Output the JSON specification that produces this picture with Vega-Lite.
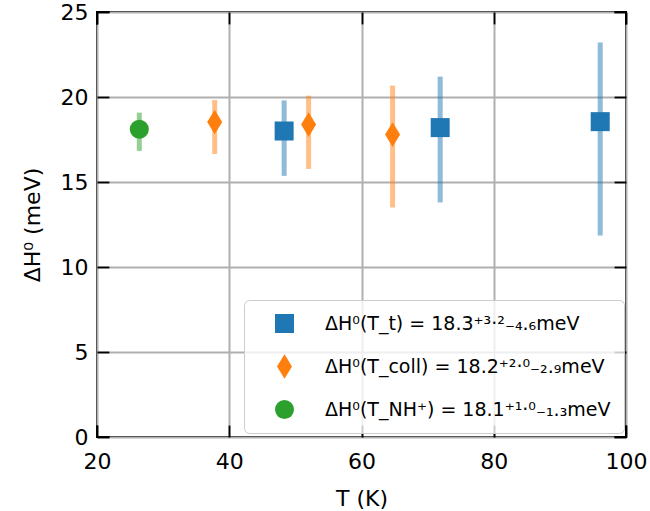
{
  "$schema": "https://vega.github.io/schema/vega-lite/v6.json",
  "width": 529,
  "height": 425,
  "autosize": "none",
  "padding": {"left": 97, "top": 12, "right": 24, "bottom": 74},
  "config": {
    "font": "DejaVu Sans",
    "view": {"stroke": "black", "strokeWidth": 2},
    "axis": {
      "domain": false,
      "tickSize": -12,
      "tickColor": "black",
      "tickWidth": 2,
      "labelFontSize": 22,
      "labelColor": "black",
      "labelFlush": false,
      "labelOverlap": false,
      "titleFontSize": 22,
      "titleFontWeight": "normal",
      "titleColor": "black",
      "gridColor": "#b0b0b0",
      "gridWidth": 2,
      "labelPadding": 21,
      "zindex": 1
    }
  },
  "data": {
    "values": [
      {"series": "ΔH⁰(T_t) = 18.3⁺³·²₋₄.₆meV", "T": 48.3, "dH": 18.0, "lo": 15.36, "hi": 19.8},
      {"series": "ΔH⁰(T_t) = 18.3⁺³·²₋₄.₆meV", "T": 71.9, "dH": 18.2, "lo": 13.8, "hi": 21.2},
      {"series": "ΔH⁰(T_t) = 18.3⁺³·²₋₄.₆meV", "T": 96.1, "dH": 18.55, "lo": 11.86, "hi": 23.2},
      {"series": "ΔH⁰(T_coll) = 18.2⁺²·⁰₋₂.₉meV", "T": 37.8, "dH": 18.53, "lo": 16.65, "hi": 19.82},
      {"series": "ΔH⁰(T_coll) = 18.2⁺²·⁰₋₂.₉meV", "T": 52.0, "dH": 18.38, "lo": 15.77, "hi": 20.08},
      {"series": "ΔH⁰(T_coll) = 18.2⁺²·⁰₋₂.₉meV", "T": 64.7, "dH": 17.79, "lo": 13.5, "hi": 20.67},
      {"series": "ΔH⁰(T_NH⁺) = 18.1⁺¹·⁰₋₁.₃meV", "T": 26.4, "dH": 18.1, "lo": 16.83, "hi": 19.08}
    ]
  },
  "layer": [
    {
      "mark": {"type": "rule", "strokeWidth": 5, "opacity": 0.5},
      "encoding": {
        "x": {
          "field": "T",
          "type": "quantitative",
          "scale": {"domain": [20, 100], "nice": false, "zero": false},
          "axis": {"orient": "bottom", "values": [20, 40, 60, 80, 100], "title": "T (K)", "titleFontSize": 22, "labelPadding": 26, "grid": true, "gridDash": [0, 12, 401, 12], "titlePadding": 16}
        },
        "y": {
          "field": "lo",
          "type": "quantitative",
          "scale": {"domain": [0, 25], "nice": false, "zero": false},
          "axis": {"orient": "left", "values": [0, 5, 10, 15, 20, 25], "title": "ΔH⁰ (meV)", "titleFontSize": 22, "grid": true, "gridDash": [0, 12, 505, 12], "titlePadding": 16}
        },
        "y2": {"field": "hi"},
        "stroke": {
          "field": "series",
          "type": "nominal",
          "scale": {"domain": ["ΔH⁰(T_NH⁺) = 18.1⁺¹·⁰₋₁.₃meV", "ΔH⁰(T_coll) = 18.2⁺²·⁰₋₂.₉meV", "ΔH⁰(T_t) = 18.3⁺³·²₋₄.₆meV"], "range": ["#2ca02c", "#ff7f0e", "#1f77b4"]},
          "legend": null
        }
      }
    },
    {
      "mark": {"type": "point", "filled": true, "size": 361, "opacity": 1},
      "encoding": {
        "x": {
          "field": "T",
          "type": "quantitative",
          "axis": {"orient": "top", "values": [20, 40, 60, 80, 100], "labels": false, "title": null, "grid": false}
        },
        "y": {
          "field": "dH",
          "type": "quantitative",
          "axis": {"orient": "right", "values": [0, 5, 10, 15, 20, 25], "labels": false, "title": null, "grid": false}
        },
        "color": {
          "field": "series",
          "type": "nominal",
          "scale": {"domain": ["ΔH⁰(T_t) = 18.3⁺³·²₋₄.₆meV", "ΔH⁰(T_coll) = 18.2⁺²·⁰₋₂.₉meV", "ΔH⁰(T_NH⁺) = 18.1⁺¹·⁰₋₁.₃meV"], "range": ["#1f77b4", "#ff7f0e", "#2ca02c"]},
          "legend": {
            "title": null,
            "orient": "none",
            "legendX": 147,
            "legendY": 288,
            "padding": 13,
            "fillColor": "rgba(255,255,255,0.8)",
            "strokeColor": "#cccccc",
            "cornerRadius": 5,
            "labelFontSize": 19,
            "labelColor": "black",
            "labelLimit": 400,
            "symbolSize": 361,
            "rowPadding": 20,
            "labelOffset": 30,
            "symbolOffset": 17
          }
        },
        "shape": {
          "field": "series",
          "type": "nominal",
          "scale": {"domain": ["ΔH⁰(T_t) = 18.3⁺³·²₋₄.₆meV", "ΔH⁰(T_coll) = 18.2⁺²·⁰₋₂.₉meV", "ΔH⁰(T_NH⁺) = 18.1⁺¹·⁰₋₁.₃meV"], "range": ["square", "M0,-1.3L0.79,0L0,1.3L-0.79,0Z", "circle"]}
        }
      }
    }
  ],
  "resolve": {"axis": {"x": "independent", "y": "independent"}}
}
